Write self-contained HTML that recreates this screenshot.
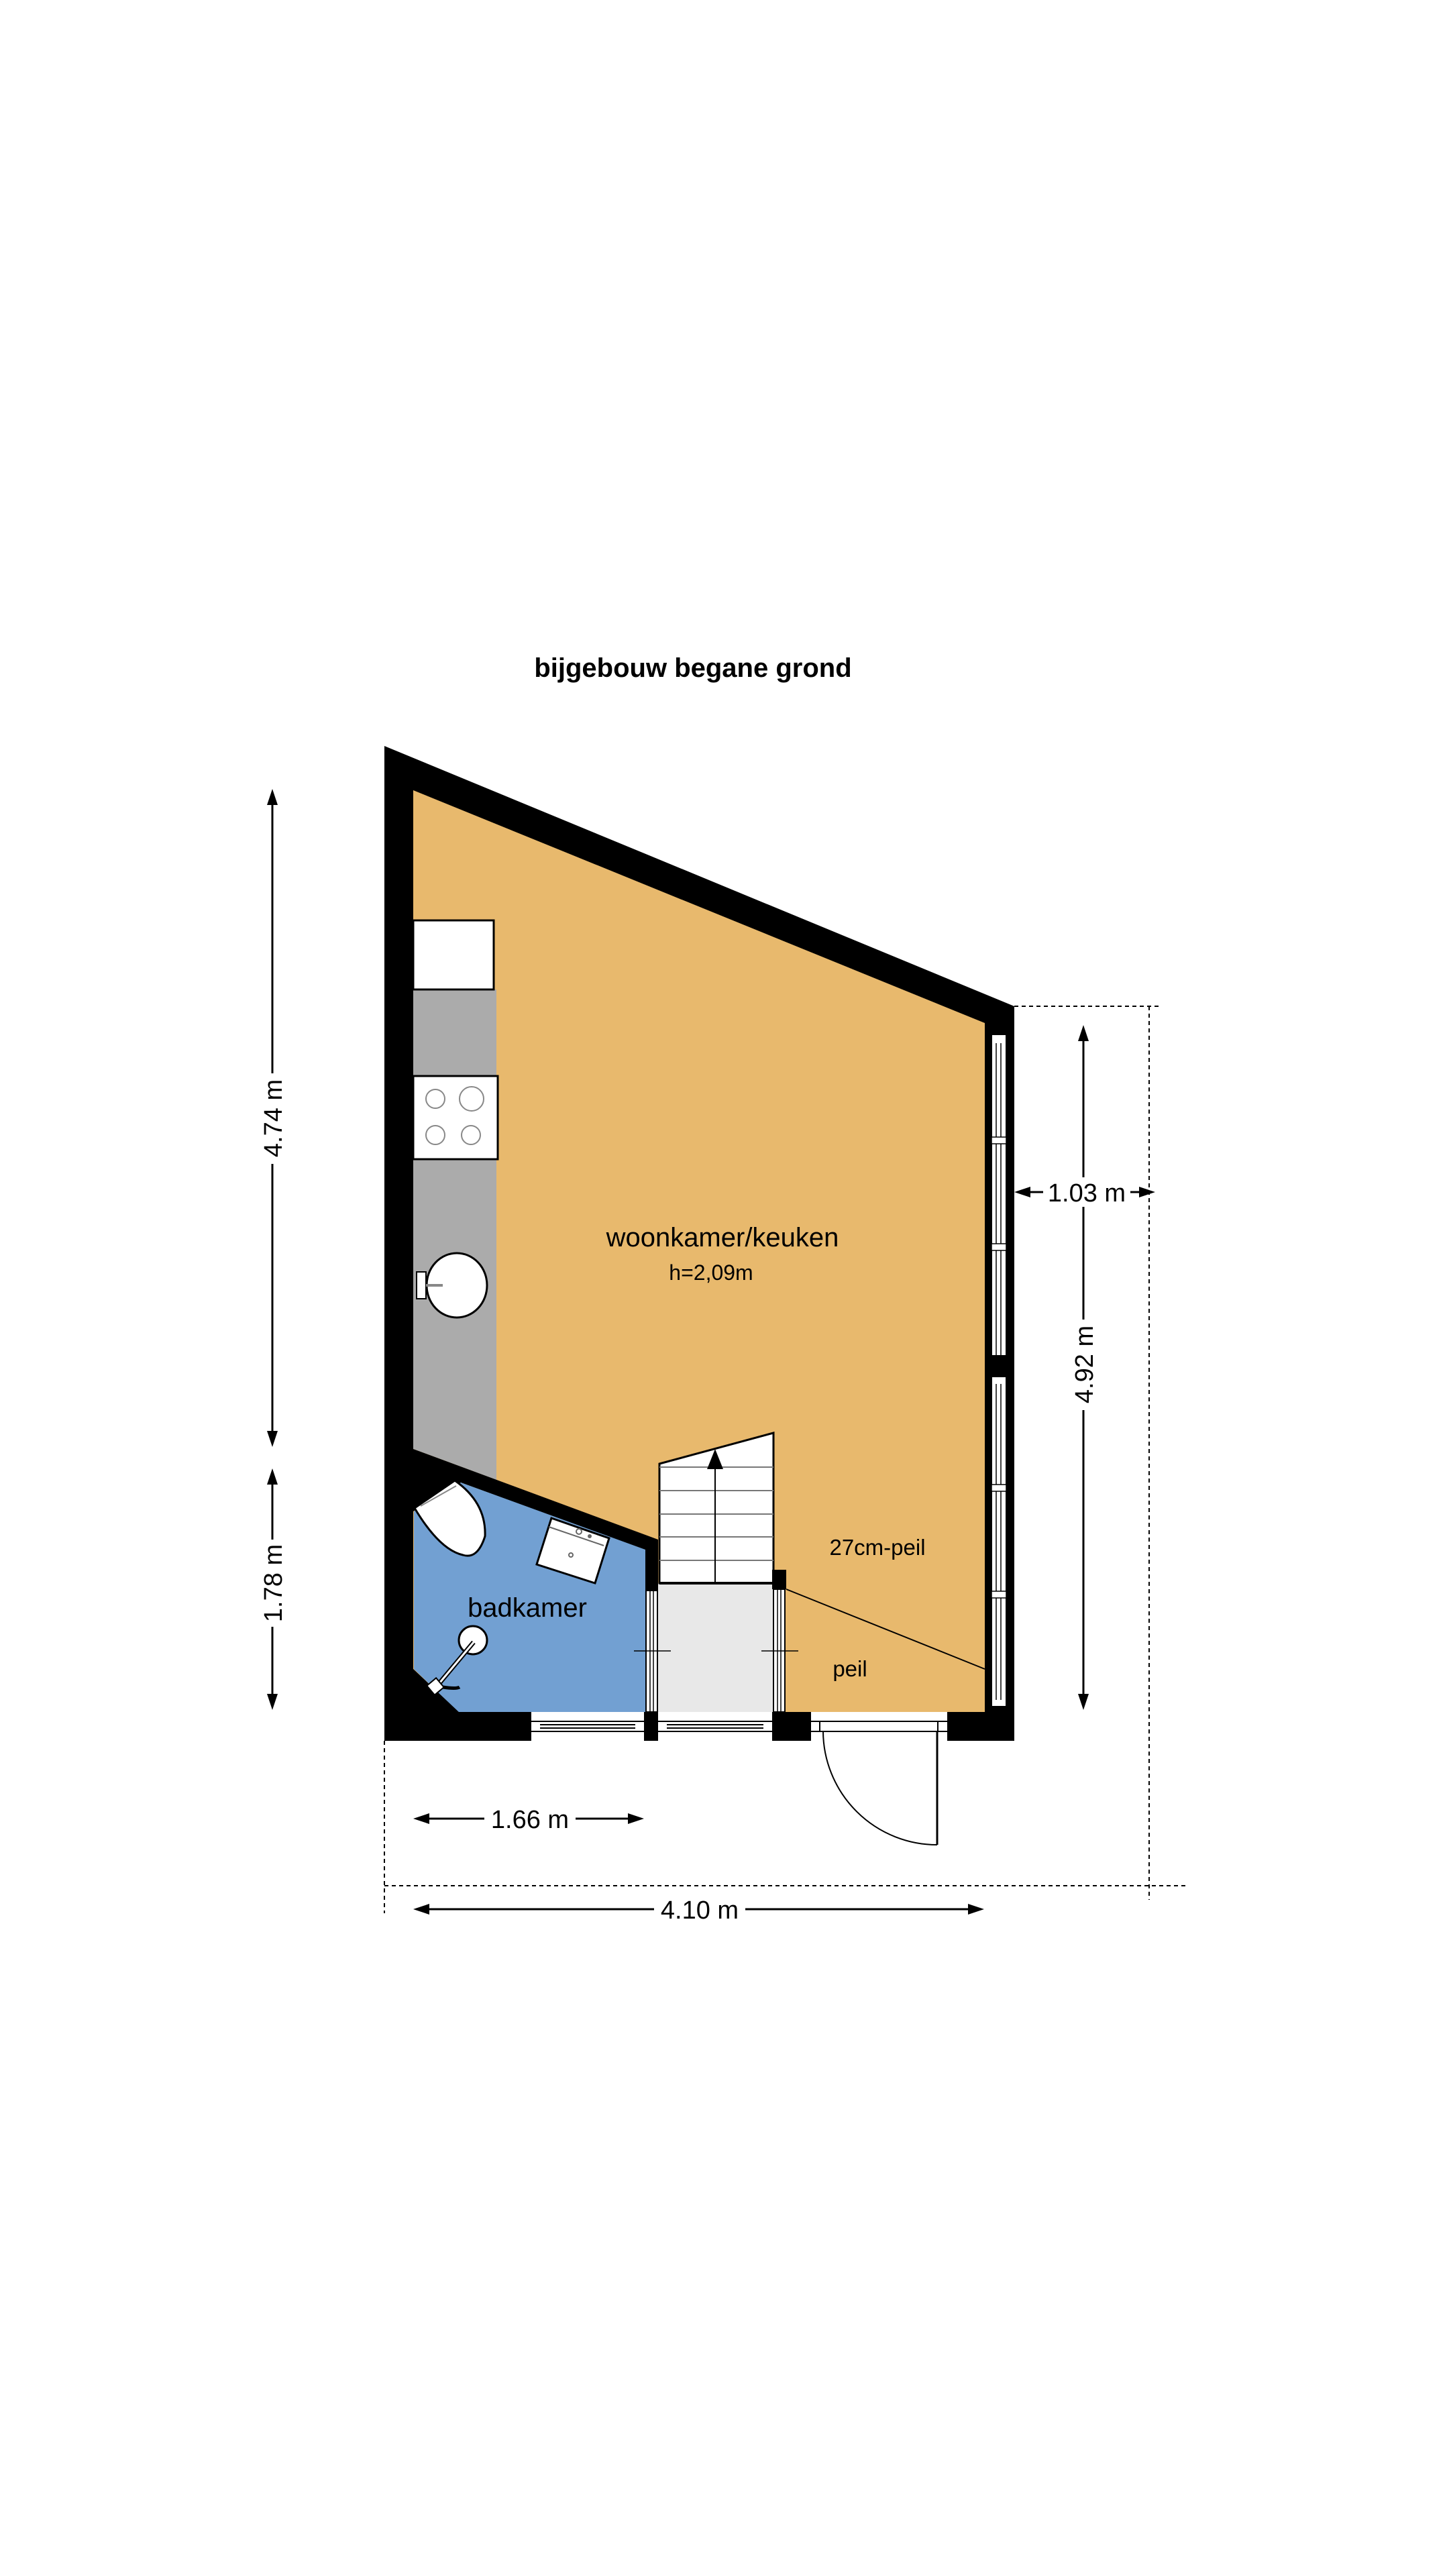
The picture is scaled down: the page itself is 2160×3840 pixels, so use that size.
<!DOCTYPE html>
<html><head><meta charset="utf-8"><style>html,body{margin:0;padding:0;background:#fff}svg{display:block}text{font-family:"Liberation Sans",sans-serif;fill:#000}</style></head>
<body>
<svg width="2160" height="3840" viewBox="0 0 2160 3840" xmlns="http://www.w3.org/2000/svg">
<rect width="2160" height="3840" fill="#fff"/>
<text x="1033" y="1009" font-size="40" font-weight="bold" text-anchor="middle">bijgebouw begane grond</text>

<polygon points="573,1112 1512,1500 1512,2595 573,2595" fill="#000"/>
<polygon points="616,1178 1468,1525 1468,2552 616,2552" fill="#e8b96d"/>
<polygon points="616,1475 740,1475 740,2206 616,2160" fill="#ababab"/>
<rect x="616" y="1372" width="120" height="103" fill="#fff" stroke="#000" stroke-width="3"/>
<rect x="616" y="1604" width="126" height="124" fill="#fff" stroke="#000" stroke-width="3"/>
<g fill="none" stroke="#888" stroke-width="2">
<circle cx="649" cy="1638" r="14"/><circle cx="703" cy="1638" r="18"/>
<circle cx="649" cy="1692" r="14"/><circle cx="702" cy="1692" r="14"/>
</g>
<ellipse cx="681" cy="1916" rx="45" ry="48" fill="#fff" stroke="#000" stroke-width="3"/>
<rect x="621" y="1896" width="14" height="40" fill="#fff" stroke="#000" stroke-width="2"/>
<line x1="635" y1="1916" x2="660" y2="1916" stroke="#888" stroke-width="4"/>

<polygon points="616,2160 981,2295 981,2371 960,2371 960,2310 687,2210 616,2253" fill="#000"/>
<polygon points="617,2253 687,2210 962,2310 962,2552 683,2552 617,2488" fill="#72a0d2"/>
<polygon points="614,2486 686,2554 614,2554" fill="#000"/>
<path d="M618,2248 L678,2207 Q725,2240 723,2290 Q712,2325 690,2318 Q655,2310 618,2248 Z" fill="#fff" stroke="#000" stroke-width="3"/>
<line x1="627" y1="2245" x2="680" y2="2215" stroke="#888" stroke-width="2"/>
<polygon points="822,2263 908,2293 887,2360 800,2332" fill="#fff" stroke="#000" stroke-width="3"/>
<line x1="818" y1="2276" x2="900" y2="2304" stroke="#666" stroke-width="2"/>
<circle cx="863" cy="2283" r="4" fill="none" stroke="#666" stroke-width="2"/>
<circle cx="879" cy="2290" r="3" fill="#666"/>
<circle cx="851" cy="2318" r="3" fill="none" stroke="#666" stroke-width="2"/>
<circle cx="705" cy="2445" r="21" fill="#fff" stroke="#000" stroke-width="3"/>
<line x1="706" y1="2448" x2="650" y2="2515" stroke="#000" stroke-width="7"/>
<line x1="706" y1="2448" x2="650" y2="2515" stroke="#fff" stroke-width="3"/>
<rect x="640" y="2505" width="18" height="18" fill="#fff" stroke="#000" stroke-width="2" transform="rotate(-40 649 2514)"/>
<path d="M660,2515 Q680,2518 685,2515" stroke="#000" stroke-width="5" fill="none"/>

<rect x="981" y="2360" width="172" height="192" fill="#e8e8e8"/>
<polygon points="983,2182 1153,2136 1153,2360 983,2360" fill="#fff" stroke="#000" stroke-width="3"/>
<g stroke="#777" stroke-width="2">
<line x1="983" y1="2187" x2="1153" y2="2187"/><line x1="983" y1="2222" x2="1153" y2="2222"/>
<line x1="983" y1="2257" x2="1153" y2="2257"/><line x1="983" y1="2291" x2="1153" y2="2291"/>
<line x1="983" y1="2326" x2="1153" y2="2326"/>
</g>
<line x1="1066" y1="2180" x2="1066" y2="2360" stroke="#000" stroke-width="2"/>
<polygon points="1066,2160 1054,2190 1078,2190" fill="#000"/>
<line x1="983" y1="2360" x2="1153" y2="2360" stroke="#000" stroke-width="4"/>
<rect x="1151" y="2340" width="21" height="29" fill="#000"/>
<line x1="1172" y1="2369" x2="1468" y2="2488" stroke="#000" stroke-width="2"/>
<g fill="#fff" stroke="#000" stroke-width="2">
<rect x="963" y="2371" width="17" height="181"/><rect x="1153" y="2369" width="17" height="183"/>
</g>
<g stroke="#000" stroke-width="1.5">
<line x1="969" y1="2371" x2="969" y2="2552"/><line x1="974" y1="2371" x2="974" y2="2552"/>
<line x1="1159" y1="2369" x2="1159" y2="2552"/><line x1="1164" y1="2369" x2="1164" y2="2552"/>
<line x1="945" y1="2461" x2="1000" y2="2461"/><line x1="1135" y1="2461" x2="1190" y2="2461"/>
</g>

<g fill="#fff" stroke="#000" stroke-width="2">
<rect x="1478" y="1542" width="22" height="479"/><rect x="1478" y="2052" width="22" height="492"/>
</g>
<g stroke="#000" stroke-width="1.5">
<line x1="1485" y1="1555" x2="1485" y2="2021"/><line x1="1492" y1="1555" x2="1492" y2="2021"/>
<line x1="1485" y1="2063" x2="1485" y2="2534"/><line x1="1492" y1="2063" x2="1492" y2="2534"/>
</g>
<g fill="#fff" stroke="#000" stroke-width="1.5">
<rect x="1478" y="1695" width="22" height="10"/><rect x="1478" y="1854" width="22" height="10"/>
<rect x="1478" y="2213" width="22" height="10"/><rect x="1478" y="2372" width="22" height="10"/>
</g>

<g fill="#fff">
<rect x="792" y="2552" width="168" height="44"/><rect x="981" y="2552" width="170" height="44"/>
<rect x="1209" y="2552" width="203" height="44"/>
</g>
<g stroke="#000" stroke-width="2">
<line x1="792" y1="2566" x2="960" y2="2566"/><line x1="792" y1="2581" x2="960" y2="2581"/>
<line x1="805" y1="2571" x2="947" y2="2571"/><line x1="805" y1="2576" x2="947" y2="2576"/>
<line x1="981" y1="2566" x2="1151" y2="2566"/><line x1="981" y1="2581" x2="1151" y2="2581"/>
<line x1="994" y1="2571" x2="1138" y2="2571"/><line x1="994" y1="2576" x2="1138" y2="2576"/>
<line x1="1209" y1="2566" x2="1412" y2="2566"/><line x1="1209" y1="2581" x2="1412" y2="2581"/>
<line x1="1222" y1="2566" x2="1222" y2="2581"/><line x1="1398" y1="2566" x2="1398" y2="2581"/>
</g>
<line x1="1397" y1="2581" x2="1397" y2="2750" stroke="#000" stroke-width="3"/>
<path d="M1227,2581 A170,170 0 0 0 1397,2750" fill="none" stroke="#000" stroke-width="2"/>

<text x="1077" y="1858" font-size="40" text-anchor="middle">woonkamer/keuken</text>
<text x="1060" y="1908" font-size="32" text-anchor="middle">h=2,09m</text>
<text x="786" y="2410" font-size="40" text-anchor="middle">badkamer</text>
<text x="1308" y="2318" font-size="33" text-anchor="middle">27cm-peil</text>
<text x="1267" y="2499" font-size="33" text-anchor="middle">peil</text>

<g stroke="#000" stroke-width="2" stroke-dasharray="6 5" fill="none">
<line x1="1512" y1="1500" x2="1729" y2="1500"/>
<line x1="1713" y1="1500" x2="1713" y2="2832"/>
<line x1="573" y1="2811" x2="1767" y2="2811"/>
<line x1="573" y1="2595" x2="573" y2="2852"/>
</g>

<g stroke="#000" stroke-width="3">
<line x1="406" y1="1195" x2="406" y2="2140"/>
<line x1="406" y1="2208" x2="406" y2="2530"/>
<line x1="1615" y1="1550" x2="1615" y2="2530"/>
<line x1="635" y1="2711" x2="941" y2="2711"/>
<line x1="635" y1="2846" x2="1448" y2="2846"/>
<line x1="1530" y1="1777" x2="1555" y2="1777"/>
<line x1="1685" y1="1777" x2="1704" y2="1777"/>
</g>
<g fill="#000">
<polygon points="406,1176 398,1200 414,1200"/><polygon points="406,2157 398,2133 414,2133"/>
<polygon points="406,2189 398,2213 414,2213"/><polygon points="406,2549 398,2525 414,2525"/>
<polygon points="1615,1528 1607,1552 1623,1552"/><polygon points="1615,2549 1607,2525 1623,2525"/>
<polygon points="616,2711 640,2703 640,2719"/><polygon points="960,2711 936,2703 936,2719"/>
<polygon points="616,2846 640,2838 640,2854"/><polygon points="1467,2846 1443,2838 1443,2854"/>
<polygon points="1512,1777 1536,1769 1536,1785"/><polygon points="1722,1777 1698,1769 1698,1785"/>
</g>
<g fill="#fff">
<rect x="390" y="1600" width="32" height="135"/>
<rect x="390" y="2295" width="32" height="130"/>
<rect x="1599" y="1967" width="32" height="135"/>
<rect x="1555" y="1755" width="130" height="44"/>
<rect x="722" y="2690" width="136" height="44"/>
<rect x="975" y="2825" width="136" height="44"/>
</g>
<g font-size="38" text-anchor="middle">
<text x="1620" y="1791">1.03 m</text>
<text x="790" y="2725">1.66 m</text>
<text x="1043" y="2860">4.10 m</text>
<text transform="translate(420,1667) rotate(-90)">4.74 m</text>
<text transform="translate(420,2360) rotate(-90)">1.78 m</text>
<text transform="translate(1629,2034) rotate(-90)">4.92 m</text>
</g>
</svg>
</body></html>
